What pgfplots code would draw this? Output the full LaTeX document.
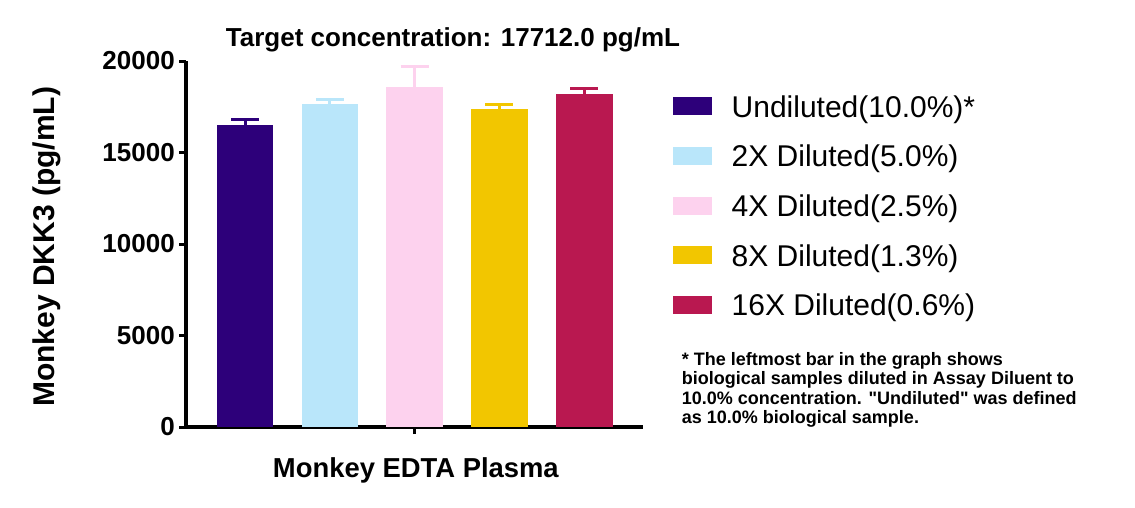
\documentclass[border=0pt]{standalone}
\usepackage{fontspec}
\setmainfont{Liberation Sans}
\usepackage{pgfplots}
\pgfplotsset{compat=1.18}

\definecolor{undil}{RGB}{45,0,122}
\definecolor{dilA}{RGB}{185,230,250}
\definecolor{dilB}{RGB}{253,210,238}
\definecolor{dilC}{RGB}{242,198,0}
\definecolor{dilD}{RGB}{185,24,80}

\pgfplotsset{
  dkkbar/.style={ybar, bar width=56.6pt, bar shift=0pt, fill=#1, draw=none,
    error bars/.cd, y dir=plus, y explicit, error mark=|,
    error bar style={line width=3pt, draw=#1},
    error mark options={line width=3pt, mark size=14pt, draw=#1}},
}

\begin{document}
\begin{tikzpicture}
\useasboundingbox (0,0) rectangle (1135pt,507pt);
\begin{axis}[
  at={(186pt,80pt)}, anchor=south west,
  scale only axis, width=457pt, height=366pt,
  xmin=0.304, xmax=5.692, ymin=0, ymax=20000,
  axis x line*=bottom, axis y line*=left,
  axis line style={line width=3.5pt, -},
  tick align=outside, major tick length=7pt,
  tick style={line width=3pt, black},
  xtick={3}, xticklabels={},
  ytick={0,5000,10000,15000,20000},
  scaled y ticks=false,
  /pgf/number format/assume math mode=true,
  /pgf/number format/1000 sep={},
  yticklabel style={font=\fontsize{26}{30}\selectfont\bfseries, inner sep=0pt, xshift=-4pt},
  xlabel={Monkey EDTA Plasma},
  xlabel style={at={(axis description cs:0.503,-0.1374)}, anchor=base,
    font=\fontsize{27.4}{32}\selectfont\bfseries},
  ylabel={Monkey DKK3 (pg/mL)},
  ylabel style={at={(axis description cs:-0.2888,0.492)}, anchor=base,
    font=\fontsize{30}{34}\selectfont\bfseries},
  legend image code/.code={\fill (0pt,-9pt) rectangle (39pt,9pt);},
  legend style={at={(axis description cs:1.065,0.9068)}, anchor=north west,
    draw=none, fill=none, inner sep=0pt, outer sep=0pt,
    row sep=27.7pt, column sep=20pt,
    font=\fontsize{30}{34}\selectfont,
    nodes={inner sep=0pt, text height=22pt, text depth=0pt, anchor=west}},
  legend cell align=left,
]
\addplot[dkkbar=undil] coordinates {(1,16500) +- (0,290)};
\addlegendentry{Undiluted(10.0\%)*}
\addplot[dkkbar=dilA] coordinates {(2,17650) +- (0,220)};
\addlegendentry{2X Diluted(5.0\%)}
\addplot[dkkbar=dilB] coordinates {(3,18600) +- (0,1090)};
\addlegendentry{4X Diluted(2.5\%)}
\addplot[dkkbar=dilC] coordinates {(4,17380) +- (0,260)};
\addlegendentry{8X Diluted(1.3\%)}
\addplot[dkkbar=dilD] coordinates {(5,18200) +- (0,290)};
\addlegendentry{16X Diluted(0.6\%)}
\end{axis}

\node[anchor=base, font=\fontsize{26}{30}\selectfont\bfseries] at (453pt,460.3pt)
  {Target concentration: 17712.0 pg/mL};

\node[anchor=north west, inner sep=0pt, align=left,
  font=\fontsize{18}{19.5}\selectfont\bfseries] at (681.7pt,155.2pt)
  {* The leftmost bar in the graph shows\\
   biological samples diluted in Assay Diluent to\\
   10.0\% concentration. \textquotedbl Undiluted\textquotedbl\ was defined\\
   as 10.0\% biological sample.};
\end{tikzpicture}
\end{document}
